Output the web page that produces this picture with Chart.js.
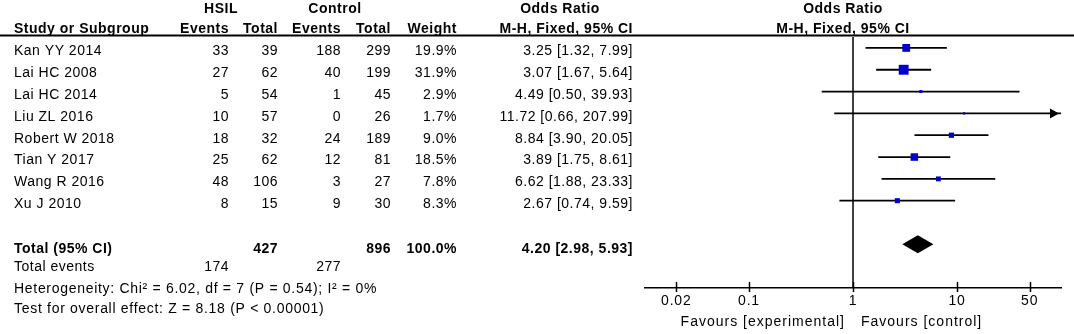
<!DOCTYPE html>
<html>
<head>
<meta charset="utf-8">
<script src="https://cdn.jsdelivr.net/npm/chart.js@4.4.0/dist/chart.umd.min.js"></script>
<style>
  html, body { margin: 0; padding: 0; background: #fff; }
</style>
</head>
<body>
<canvas id="forest" width="1074" height="334"></canvas>
<script>
'use strict';

const studies    = ['Kan YY 2014', 'Lai HC 2008', 'Lai HC 2014', 'Liu ZL 2016', 'Robert W 2018', 'Tian Y 2017', 'Wang R 2016', 'Xu J 2010'];
const hsilEvents = [33, 27, 5, 10, 18, 25, 48, 8];
const hsilTotal  = [39, 62, 54, 57, 32, 62, 106, 15];
const ctrlEvents = [188, 40, 1, 0, 24, 12, 3, 9];
const ctrlTotal  = [299, 199, 45, 26, 189, 81, 27, 30];
const weights    = [19.9, 31.9, 2.9, 1.7, 9.0, 18.5, 7.8, 8.3];
const oddsRatio  = [3.25, 3.07, 4.49, 11.72, 8.84, 3.89, 6.62, 2.67];
const ciLow      = [1.32, 1.67, 0.50, 0.66, 3.90, 1.75, 1.88, 0.74];
const ciHigh     = [7.99, 5.64, 39.93, 207.99, 20.05, 8.61, 23.33, 9.59];

const totalTotals = [427, 896];
const totalEvents = [174, 277];
const pooled      = [4.20, 2.98, 5.93]; // OR, low, high
const hetText     = 'Heterogeneity: Chi² = 6.02, df = 7 (P = 0.54); I² = 0%';
const effectText  = 'Test for overall effect: Z = 8.18 (P < 0.00001)';
const xTicks      = [0.02, 0.1, 1, 10, 50];

const TOTAL_ROW = 9;
const FONT = '"Liberation Sans", Arial, sans-serif';
const BLUE = '#0000cc';

function ciText(or, lo, hi) {
  return or.toFixed(2) + ' [' + lo.toFixed(2) + ', ' + hi.toFixed(2) + ']';
}

// table text on the left, headers, footers
const tablePlugin = {
  id: 'table',
  beforeDraw(chart) {
    chart.ctx.letterSpacing = '0.8px';
  },
  afterDraw(chart) {
    const ctx = chart.ctx;
    const ys = chart.scales.y;
    const xs = chart.scales.x;
    ctx.save();
    ctx.fillStyle = '#000';
    ctx.textBaseline = 'middle';
    ctx.letterSpacing = '0.5px';
    const txt = (s, x, y, align, bold, size) => {
      ctx.font = (bold ? 'bold ' : '') + (size || 14) + 'px ' + FONT;
      ctx.textAlign = align;
      ctx.fillText(s, x, y);
    };

    // headers
    txt('HSIL', 221, 9, 'center', true);
    txt('Control', 335, 9, 'center', true);
    txt('Odds Ratio', 560, 9, 'center', true);
    txt('Odds Ratio', 843, 9, 'center', true);
    txt('Study or Subgroup', 14, 29, 'left', true);
    txt('Events', 229, 29, 'right', true);
    txt('Total', 278, 29, 'right', true);
    txt('Events', 341, 29, 'right', true);
    txt('Total', 391, 29, 'right', true);
    txt('Weight', 457, 29, 'right', true);
    txt('M-H, Fixed, 95% CI', 633, 29, 'right', true);
    txt('M-H, Fixed, 95% CI', 843, 29, 'center', true);

    ctx.strokeStyle = '#000';
    ctx.lineWidth = 2;
    ctx.beginPath();
    ctx.moveTo(0, 35.5);
    ctx.lineTo(1074, 35.5);
    ctx.stroke();

    // study rows
    studies.forEach((name, i) => {
      const y = ys.getPixelForValue(i) + 3.5;
      txt(name, 14, y, 'left');
      txt(String(hsilEvents[i]), 229, y, 'right');
      txt(String(hsilTotal[i]), 278, y, 'right');
      txt(String(ctrlEvents[i]), 341, y, 'right');
      txt(String(ctrlTotal[i]), 391, y, 'right');
      txt(weights[i].toFixed(1) + '%', 457, y, 'right');
      txt(ciText(oddsRatio[i], ciLow[i], ciHigh[i]), 633, y, 'right');
    });

    // total row
    const ty = ys.getPixelForValue(TOTAL_ROW) + 4.5;
    txt('Total (95% CI)', 14, ty, 'left', true);
    txt(String(totalTotals[0]), 278, ty, 'right', true);
    txt(String(totalTotals[1]), 391, ty, 'right', true);
    txt('100.0%', 457, ty, 'right', true);
    txt(ciText(pooled[0], pooled[1], pooled[2]), 633, ty, 'right', true);

    txt('Total events', 14, 267, 'left');
    txt(String(totalEvents[0]), 229, 267, 'right');
    txt(String(totalEvents[1]), 341, 267, 'right');
    ctx.letterSpacing = '0.7px';
    txt(hetText, 14, 289, 'left');
    txt(effectText, 14, 309, 'left');

    // favours labels under the axis
    ctx.letterSpacing = '1px';
    const one = xs.getPixelForValue(1);
    txt('Favours [experimental]', one - 8, 322, 'right', false, 14);
    txt('Favours [control]', one + 8, 322, 'left', false, 14);
    ctx.restore();
  }
};

// reference line, tick marks, diamond, arrow
const forestPlugin = {
  id: 'forest',
  beforeDatasetsDraw(chart) {
    const ctx = chart.ctx;
    const xs = chart.scales.x;
    const area = chart.chartArea;
    const one = xs.getPixelForValue(1);
    ctx.save();
    ctx.strokeStyle = '#000';
    ctx.lineWidth = 1.5;
    ctx.beginPath();
    ctx.moveTo(one, area.top);
    ctx.lineTo(one, area.bottom);
    ctx.stroke();
    xTicks.forEach(v => {
      const px = Math.round(xs.getPixelForValue(v)) + 0.5;
      ctx.beginPath();
      ctx.moveTo(px, area.bottom - 6);
      ctx.lineTo(px, area.bottom + 4);
      ctx.stroke();
    });
    ctx.restore();
  },
  afterDatasetsDraw(chart) {
    const ctx = chart.ctx;
    const xs = chart.scales.x;
    const ys = chart.scales.y;
    const area = chart.chartArea;
    ctx.save();
    ctx.fillStyle = '#000';
    // pooled diamond
    const cy = ys.getPixelForValue(TOTAL_ROW);
    ctx.beginPath();
    ctx.moveTo(xs.getPixelForValue(pooled[1]), cy);
    ctx.lineTo(xs.getPixelForValue(pooled[0]), cy - 9);
    ctx.lineTo(xs.getPixelForValue(pooled[2]), cy);
    ctx.lineTo(xs.getPixelForValue(pooled[0]), cy + 9);
    ctx.closePath();
    ctx.fill();
    // arrows where the CI runs off the scale
    ciHigh.forEach((hi, i) => {
      if (hi <= xs.max) return;
      const y = ys.getPixelForValue(i);
      ctx.beginPath();
      ctx.moveTo(area.right - 2, y);
      ctx.lineTo(area.right - 11, y - 5);
      ctx.lineTo(area.right - 11, y + 5);
      ctx.closePath();
      ctx.fill();
    });
    ctx.restore();
  }
};

const ciSets = studies.map((s, i) => ({
  type: 'line',
  label: s,
  data: [{ x: ciLow[i], y: i }, { x: ciHigh[i], y: i }],
  borderColor: '#000',
  borderWidth: 1.8,
  pointRadius: 0,
  order: 2
}));

const pointSet = {
  type: 'scatter',
  label: 'Odds ratio',
  data: oddsRatio.map((v, i) => ({ x: v, y: i })),
  pointStyle: 'rect',
  pointRadius: weights.map(w => 1.75 * Math.sqrt(w) / Math.SQRT2),
  pointBackgroundColor: BLUE,
  pointBorderWidth: 0,
  order: 1
};

new Chart(document.getElementById('forest'), {
  data: { datasets: ciSets.concat([pointSet]) },
  options: {
    responsive: false,
    animation: false,
    events: [],
    layout: { padding: { left: 645, right: 13, top: 37, bottom: 0 } },
    plugins: { legend: { display: false }, tooltip: { enabled: false } },
    scales: {
      x: {
        type: 'logarithmic',
        min: 0.01,
        max: 100,
        afterBuildTicks: s => { s.ticks = xTicks.map(v => ({ value: v })); },
        afterFit: s => { s.height = 46; },
        grid: { display: false, drawTicks: false },
        border: { display: true, color: '#000', width: 1.5 },
        ticks: {
          autoSkip: false,
          maxRotation: 0,
          padding: 5,
          color: '#000',
          font: { family: FONT, size: 14 },
          callback: v => String(v)
        }
      },
      y: {
        type: 'linear',
        min: -0.5,
        max: 11,
        reverse: true,
        display: false
      }
    }
  },
  plugins: [tablePlugin, forestPlugin]
});
</script>
</body>
</html>
